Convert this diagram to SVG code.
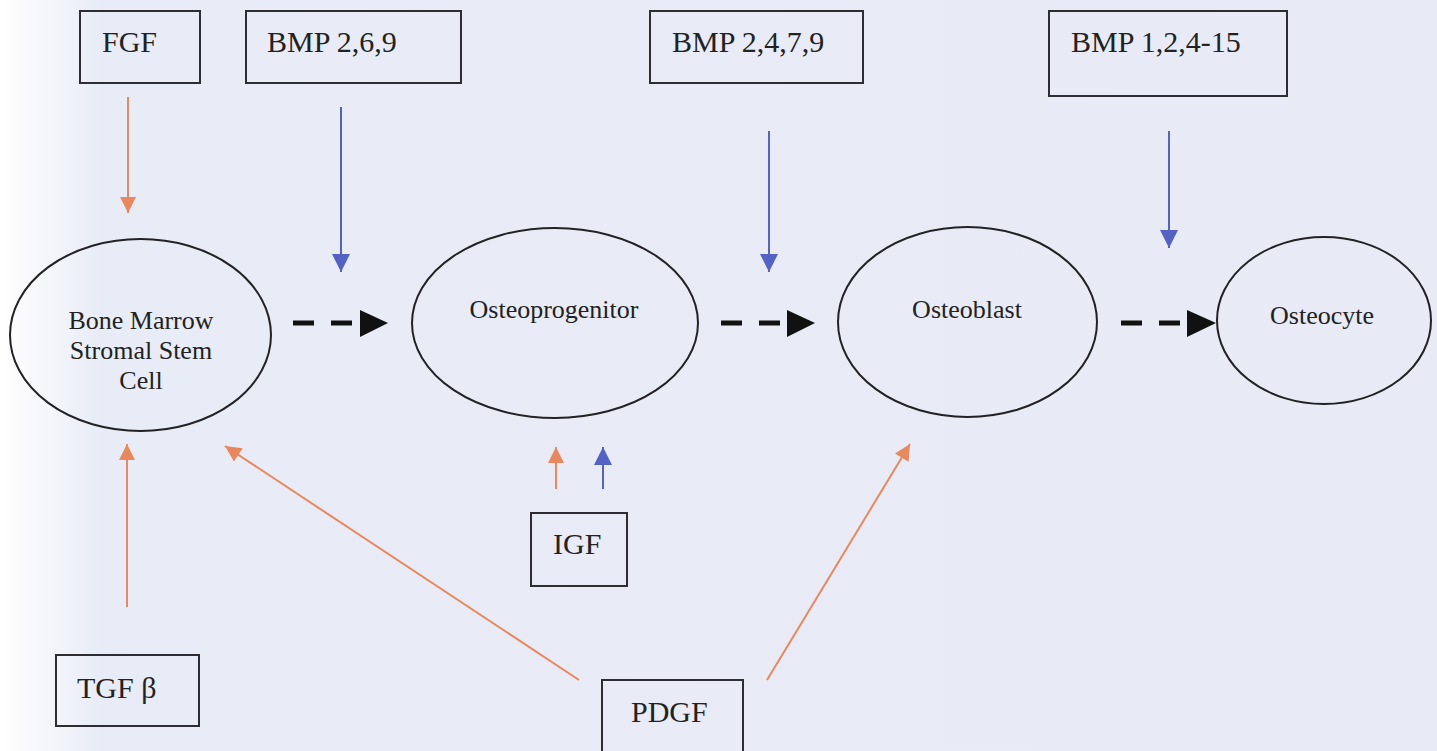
<svg xmlns="http://www.w3.org/2000/svg" width="1437" height="751" viewBox="0 0 1437 751">
<defs>
<linearGradient id="bg" x1="0" y1="0" x2="1" y2="0">
<stop offset="0" stop-color="#ffffff"/>
<stop offset="0.03" stop-color="#f6f7fb"/>
<stop offset="0.07" stop-color="#e8ecf6"/>
<stop offset="1" stop-color="#e8ebf6"/>
</linearGradient>
<marker id="hO" viewBox="0 0 10 10" refX="10" refY="5" markerWidth="18" markerHeight="16" markerUnits="userSpaceOnUse" orient="auto"><path d="M0,0 L10,5 L0,10 Z" fill="#e9875d"/></marker>
<marker id="hB" viewBox="0 0 10 10" refX="10" refY="5" markerWidth="20" markerHeight="18" markerUnits="userSpaceOnUse" orient="auto"><path d="M0,0 L10,5 L0,10 Z" fill="#5462c4"/></marker>
</defs>
<style>
.box{fill:none;stroke:#2d2d33;stroke-width:2}
.ell{fill:none;stroke:#222226;stroke-width:2}
.t{font-family:"Liberation Serif","Times New Roman",serif;fill:#222}
.big{font-size:30px}
.sm{font-size:26px}
.o{stroke:#e9875d;stroke-width:2;fill:none}
.b{stroke:#5462c4;stroke-width:2;fill:none}
.d{stroke:#111;stroke-width:5;stroke-dasharray:21 17;fill:none}
.hd{fill:#111}
</style>
<rect width="1437" height="751" fill="url(#bg)"/>

<g id="fgf"><rect class="box" x="80" y="11" width="120" height="72"/><text class="t big" x="102" y="52">FGF</text></g>
<g id="bmp269"><rect class="box" x="246" y="11" width="215" height="72"/><text class="t big" x="267" y="52">BMP 2,6,9</text></g>
<g id="bmp2479"><rect class="box" x="650" y="11" width="213" height="72"/><text class="t big" x="672" y="52">BMP 2,4,7,9</text></g>
<g id="bmp1215"><rect class="box" x="1049" y="11" width="238" height="85"/><text class="t big" x="1071" y="52">BMP 1,2,4-15</text></g>
<g id="tgfb"><rect class="box" x="56" y="655" width="143" height="71"/><text class="t big" x="77" y="698">TGF β</text></g>
<g id="igf"><rect class="box" x="531" y="513" width="96" height="73"/><text class="t big" x="553" y="554">IGF</text></g>
<g id="pdgf"><rect class="box" x="602" y="680" width="141" height="80"/><text class="t big" x="631" y="722">PDGF</text></g>

<g id="bmssc"><ellipse class="ell" cx="140.5" cy="335" rx="130.5" ry="96"/>
<text class="t sm" text-anchor="middle"><tspan x="141" y="329">Bone Marrow</tspan><tspan x="141" y="359">Stromal Stem</tspan><tspan x="141" y="389">Cell</tspan></text></g>
<g id="osteoprogenitor"><ellipse class="ell" cx="555" cy="323" rx="143" ry="95"/><text class="t sm" x="554" y="318" text-anchor="middle">Osteoprogenitor</text></g>
<g id="osteoblast"><ellipse class="ell" cx="967.5" cy="322" rx="129.5" ry="95"/><text class="t sm" x="967" y="318" text-anchor="middle">Osteoblast</text></g>
<g id="osteocyte"><ellipse class="ell" cx="1324" cy="320.5" rx="107" ry="83.5"/><text class="t sm" x="1322" y="324" text-anchor="middle">Osteocyte</text></g>

<g id="connectors">
<line class="d" x1="293" y1="323" x2="355" y2="323"/><path class="hd" d="M360,310 L388,323 L360,337 Z"/>
<line class="d" x1="721" y1="323" x2="783" y2="323"/><path class="hd" d="M787,310 L815,323 L787,337 Z"/>
<line class="d" x1="1121" y1="323" x2="1183" y2="323"/><path class="hd" d="M1187,310 L1216,323 L1187,337 Z"/>

<line class="o" x1="128" y1="97" x2="128" y2="213" marker-end="url(#hO)"/>
<line class="b" x1="341" y1="107" x2="341" y2="272" marker-end="url(#hB)"/>
<line class="b" x1="769" y1="131" x2="769" y2="272" marker-end="url(#hB)"/>
<line class="b" x1="1169" y1="131" x2="1169" y2="248" marker-end="url(#hB)"/>
<line class="o" x1="127" y1="607" x2="127" y2="444" marker-end="url(#hO)"/>
<line class="o" x1="556" y1="489" x2="556" y2="447" marker-end="url(#hO)"/>
<line class="b" x1="603" y1="489" x2="603" y2="447" marker-end="url(#hB)"/>
<line class="o" x1="579" y1="680" x2="225" y2="446" marker-end="url(#hO)"/>
<line class="o" x1="767" y1="680" x2="910" y2="444" marker-end="url(#hO)"/>
</g>
</svg>
